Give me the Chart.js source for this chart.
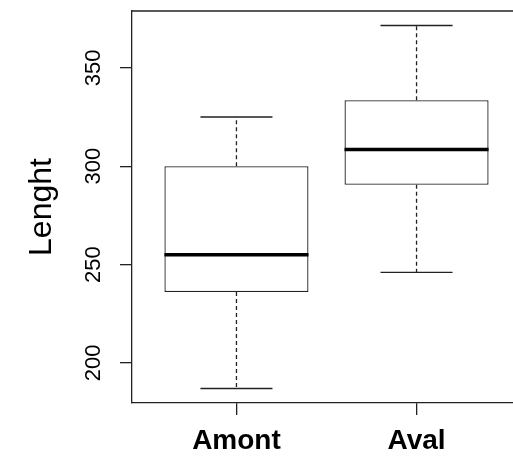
<!DOCTYPE html>
<html>
<head>
<meta charset="utf-8">
<script src="https://cdn.jsdelivr.net/npm/chart.js@4/dist/chart.umd.min.js"></script>
<style>
  html, body { margin: 0; padding: 0; background: #fff; overflow: hidden; }
  #wrap { position: absolute; left: 0; top: 0; width: 560px; height: 458px; }
</style>
</head>
<body>
<div id="wrap"><canvas id="box-chart" width="560" height="458"></canvas></div>
<script>
const categories = ["Amont", "Aval"];
const lowerWhisker = [187, 246];
const lowerQuartile = [236, 290.5];
const medians = [255, 308.5];
const upperQuartile = [300, 333.5];
const upperWhisker = [325, 371.5];
const yTicks = [200, 250, 300, 350];

const lineColor = "#222";
const fontFamily = "'Liberation Sans', Arial, sans-serif";

// axis range padded by 4% on both ends, like base R
const lo = Math.min(...lowerWhisker);
const hi = Math.max(...upperWhisker);
const pad = (hi - lo) * 0.04;

// whiskers, caps, medians and the top edge of the plot frame
const boxExtras = {
    id: "boxExtras",
    afterDatasetsDraw(chart) {
        const ctx = chart.ctx;
        const x = chart.scales.x;
        const y = chart.scales.y;
        const area = chart.chartArea;

        ctx.save();
        ctx.strokeStyle = lineColor;
        categories.forEach((cat, i) => {
            const cx = x.getPixelForValue(i + 1);
            const capL = x.getPixelForValue(i + 1 - 0.2);
            const capR = x.getPixelForValue(i + 1 + 0.2);
            const boxL = x.getPixelForValue(i + 1 - 0.4);
            const boxR = x.getPixelForValue(i + 1 + 0.4);

            // dashed whiskers
            ctx.lineWidth = 1.3;
            ctx.setLineDash([4, 3]);
            ctx.beginPath();
            ctx.moveTo(cx, y.getPixelForValue(upperQuartile[i]));
            ctx.lineTo(cx, y.getPixelForValue(upperWhisker[i]));
            ctx.moveTo(cx, y.getPixelForValue(lowerQuartile[i]));
            ctx.lineTo(cx, y.getPixelForValue(lowerWhisker[i]));
            ctx.stroke();

            // caps
            ctx.setLineDash([]);
            ctx.beginPath();
            ctx.moveTo(capL, y.getPixelForValue(upperWhisker[i]));
            ctx.lineTo(capR, y.getPixelForValue(upperWhisker[i]));
            ctx.moveTo(capL, y.getPixelForValue(lowerWhisker[i]));
            ctx.lineTo(capR, y.getPixelForValue(lowerWhisker[i]));
            ctx.stroke();

            // median
            ctx.lineWidth = 3.6;
            ctx.strokeStyle = "#000";
            ctx.beginPath();
            ctx.moveTo(boxL, y.getPixelForValue(medians[i]));
            ctx.lineTo(boxR, y.getPixelForValue(medians[i]));
            ctx.stroke();
            ctx.strokeStyle = lineColor;
        });

        ctx.lineWidth = 1.3;
        ctx.beginPath();
        ctx.moveTo(area.left, area.top);
        ctx.lineTo(area.right, area.top);
        ctx.stroke();
        ctx.restore();
    }
};

const ctx = document.getElementById("box-chart").getContext("2d");
new Chart(ctx, {
    type: "bar",
    data: {
        datasets: [{
            data: categories.map((c, i) => ({ x: i + 1, y: [lowerQuartile[i], upperQuartile[i]] })),
            backgroundColor: "#fff",
            borderColor: lineColor,
            borderWidth: 1.3,
            borderSkipped: false,
            categoryPercentage: 1,
            barPercentage: 0.8
        }]
    },
    options: {
        responsive: false,
        animation: false,
        layout: { padding: { left: 0, top: 11, right: 39, bottom: 0 } },
        plugins: { legend: { display: false }, tooltip: { enabled: false } },
        scales: {
            x: {
                type: "linear",
                min: 0.42,
                max: 2.58,
                offset: false,
                afterBuildTicks: (scale) => { scale.ticks = categories.map((c, i) => ({ value: i + 1 })); },
                afterFit: (scale) => {
                    scale.height = 55;
                    scale.paddingLeft = 0;
                    scale.paddingRight = 0;
                },
                grid: { display: true, offset: false, drawOnChartArea: false, drawTicks: true, tickLength: 12, color: lineColor, lineWidth: 1.3 },
                border: { display: true, color: lineColor, width: 1.3 },
                ticks: {
                    callback: (v) => categories[v - 1],
                    color: "#000",
                    padding: 9,
                    maxRotation: 0,
                    font: { family: fontFamily, size: 28, weight: "bold" }
                }
            },
            y: {
                min: lo - pad,
                max: hi + pad,
                afterBuildTicks: (scale) => { scale.ticks = yTicks.map(v => ({ value: v })); },
                afterFit: (scale) => {
                    scale.width = 132;
                    scale.paddingTop = 0;
                    scale.paddingBottom = 0;
                },
                grid: { display: true, drawOnChartArea: false, drawTicks: true, tickLength: 12, color: lineColor, lineWidth: 1.3 },
                border: { display: true, color: lineColor, width: 1.3 },
                ticks: {
                    color: "#000",
                    minRotation: 90,
                    maxRotation: 90,
                    crossAlign: "center",
                    padding: 8,
                    font: { family: fontFamily, size: 22 }
                },
                title: {
                    display: true,
                    text: "Lenght",
                    color: "#000",
                    padding: { top: 23, bottom: 0 },
                    font: { family: fontFamily, size: 32 }
                }
            }
        }
    },
    plugins: [boxExtras]
});
</script>
</body>
</html>
